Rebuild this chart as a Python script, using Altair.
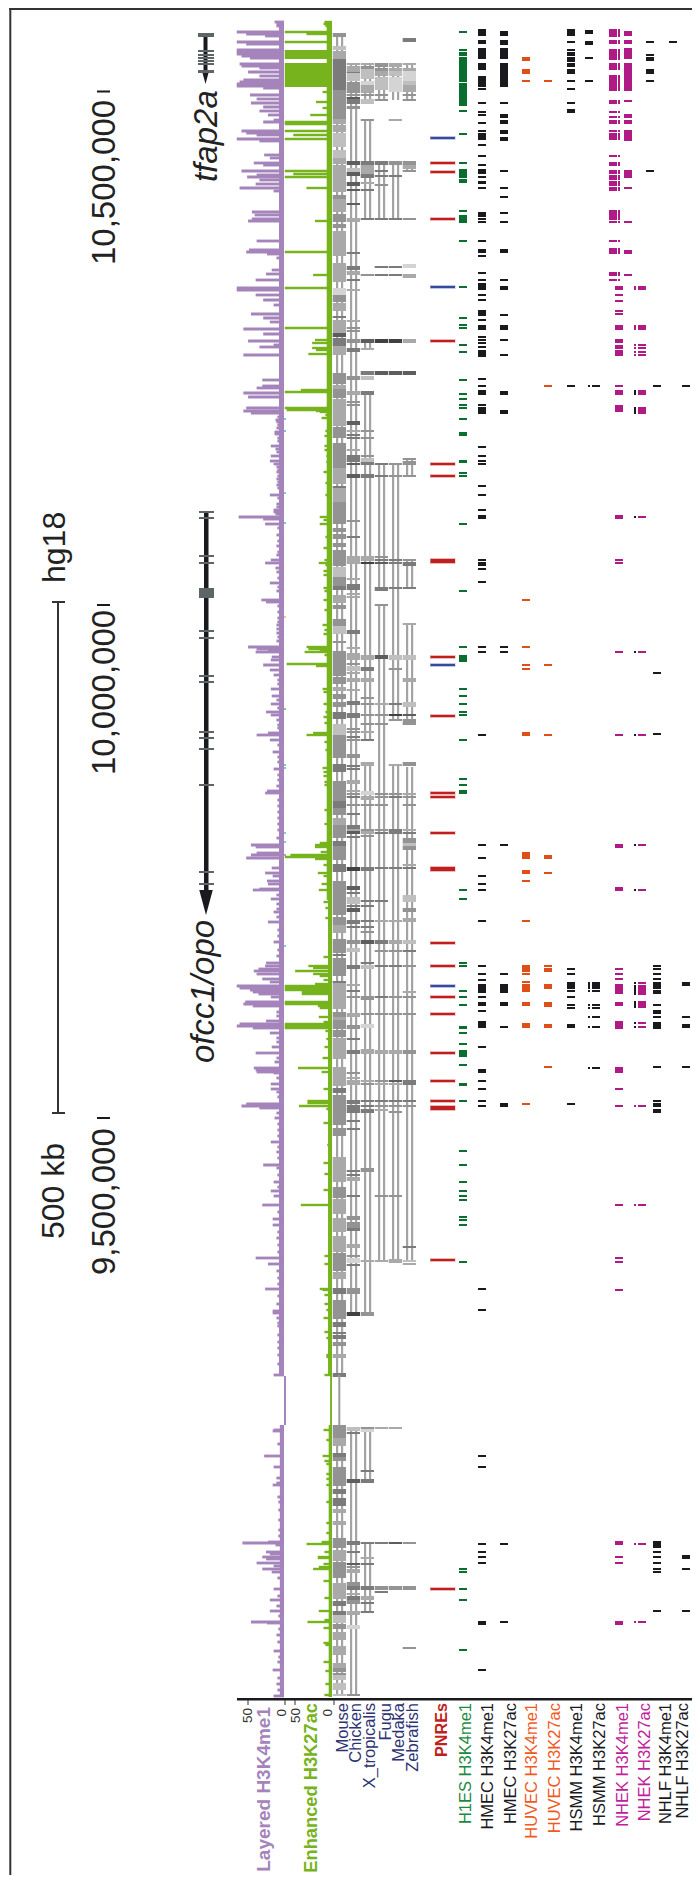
import altair as alt
import pandas as pd

alt.data_transformers.disable_max_rows()

RULER_TOP = 91.5           # where 10,500,000 sits on the reading ruler
UNITS_PER_KB = 1.0265
def bp(p):
    return 10_500_000 - (p - RULER_TOP) / UNITS_PER_KB * 1000

GRAYS = {1: "#d4d4d4", 2: "#bfbfbf", 3: "#a9a9a9", 4: "#939393", 5: "#7b7b7b", 6: "#5d5d5d", 7: "#414141"}
PURPLE, GREEN = "#a583bb", "#76b31c"
BLACK, DKGREEN, ORANGE, MAGENTA = "#1a1a1e", "#0a6e30", "#e04e17", "#b01a84"
RED, BLUE = "#c01f20", "#37499b"

# ---- signal tracks (position, signal value 0-50) ----
LAYERED = [(22,10),(24,8),(26,8),(32,50),(34,40),(36,20),(42,50),(44,40),(50,50),(52,50),(54,50),(56,45),(58,36),
(64,47),(66,45),(68,26),(72,38),(76,26),(80,43),(82,47),(84,50),(86,50),(88,22),(95,36),(99,29),(103,35),(107,22),
(111,26),(115,17),(120,11),(122,22),(131,45),(133,40),(135,29),(139,50),(141,26),(155,21),(158,15),(163,32),(165,22),
(171,45),(175,29),(177,39),(180,26),(184,30),(188,47),(191,11),(212,34),(215,31),(219,34),(221,38),(241,29),(250,37),
(252,40),(254,18),(258,8),(270,13),(274,19),(280,30),(288,50),(290,50),(295,30),(300,22),(305,11),(314,35),(318,22),
(322,15),(329,43),(334,22),(341,38),(345,11),(347,26),(355,43),(380,23),(386,23),(388,29),(393,43),(397,38),(408,40),
(411,43),(413,35),(417,7),(420,9),(422,8),(425,7),(428,8),(432,10),(434,10),(438,7),(441,7),(446,14),(449,9),(452,8),
(456,14),(461,15),(464,11),(467,8),(470,7),(472,8),(476,7),(479,8),(482,7),(485,8),(488,7),(495,15),(498,7),(504,8),
(507,8),(510,11),(512,11),(514,9),(517,48),(519,22),(524,20),(528,7),(535,8),(541,7),(546,8),(552,7),(555,8),
(560,14),(563,20),(568,9),(572,8),(578,7),(583,15),(587,7),(591,8),(600,24),(602,19),(606,7),(612,7),(618,7),(622,7),
(625,8),(629,8),(633,8),(637,7),(641,8),(647,38),
(649,29),(650,17),(652,30),(657,13),(660,14),(665,22),(670,15),(675,11),(680,7),(684,7),(689,14),(696,13),(700,8),(704,14),(708,7),(712,19),(715,14),
(720,8),(725,7),(728,7),(733,17),(735,29),(740,15),(745,7),(752,12),(757,7),(762,7),(769,11),(775,7),(780,7),(786,8),(791,18),(793,20),
(800,7),(806,7),(812,7),(818,7),(824,7),(830,7),(838,8),(845,35),(847,30),(853,29),(855,35),
(858,40),(868,13),(873,20),(876,12),(881,18),(884,17),(889,26),(890,33),(895,8),(899,14),(904,8),(909,8),(912,11),(917,8),(922,17),
(930,7),(936,7),(942,11),(950,7),(956,8),(963,19),(966,20),(969,27),(971,32),(974,29),(979,23),(982,15),(986,50),(988,47),(990,36),(992,33),(994,27),
(997,14),(1002,41),(1004,43),(1006,33),(1012,8),(1016,8),(1021,19),(1024,47),(1026,50),(1028,33),(1033,15),(1038,8),(1042,8),(1047,13),(1053,30),(1058,8),(1062,10),
(1068,32),(1070,30),(1072,29),(1073,11),(1078,8),(1084,14),(1089,14),(1092,8),(1097,7),(1104,40),(1106,45),(1108,26),(1113,8),(1118,10),(1124,7),(1130,7),(1136,7),(1142,14),(1147,7),
(1152,8),(1158,7),(1165,22),(1168,8),(1175,7),(1182,11),(1187,7),(1191,14),(1196,11),(1205,23),(1212,7),(1219,12),(1225,12),(1232,7),(1238,8),(1245,7),(1252,7),(1258,30),(1264,17),(1271,8),(1278,7),(1284,7),
(1289,20),(1296,7),(1304,8),(1311,12),(1313,12),(1318,8),(1323,7),(1326,7),(1335,7),(1342,7),(1348,7),(1355,7),(1364,7),(1375,11),(1430,11),
(1431,12),(1444,7),(1456,21),(1467,11),(1478,8),(1483,8),(1485,12),(1497,7),(1502,6),(1510,6),(1520,6),(1530,6),(1536,6),(1542,17),(1543,44),(1545,9),(1552,19),(1554,15),
(1557,23),(1559,19),(1563,29),(1566,11),(1569,23),(1572,13),(1578,7),(1589,11),(1596,7),(1600,15),(1606,8),(1611,15),(1616,6),(1622,35),
(1623,18),(1629,6),(1635,8),(1642,7),(1651,11),(1657,6),(1662,7),(1670,12),(1678,7),(1684,8),(1690,7),(1696,11)]
ENHANCED = [(22,8),(24,9),(26,7),(32,50),(34,27),(42,50),(92,10),(102,17),(108,10),(115,23),(122,50),(124,50),
(131,50),(135,41),(139,50),(171,50),(174,41),(177,50),(188,27),(221,18),(252,50),(275,20),(288,50),(328,50),(340,18),
(343,21),(348,21),(350,17),(354,25),(390,33),(392,50),(408,50),(410,48),(411,17),(412,13),(418,11),(415,7),(431,7),
(436,8),(446,8),(450,8),(456,6),(462,6),(472,9),(483,7),(495,7),(517,13),(520,9),(524,13),(537,7),(548,9),(560,8),
(563,14),(565,7),(571,9),(575,9),(588,9),(591,8),(600,9),(610,8),(625,10),(630,8),(634,9),(647,27),(649,25),(650,13),
(652,29),(655,8),(664,48),(666,17),(689,10),(692,9),(704,9),(712,7),(717,9),(723,8),(733,20),(735,27),(742,8),(750,7),
(768,10),(772,9),(776,9),(782,8),(785,8),(810,8),(824,8),(843,13),(845,18),(847,18),(852,12),(855,44),(857,50),(859,18),
(865,9),(873,15),(876,9),(884,11),(890,14),(902,9),(908,7),(918,7),(957,9),(966,25),(968,20),(971,39),(974,20),(976,13),
(980,9),(984,18),(986,50),(988,50),(990,50),(992,32),(994,32),(1002,50),(1004,50),(1006,15),(1008,13),(1017,14),(1022,9),
(1024,50),(1026,50),(1028,50),(1031,7),(1039,6),(1047,8),(1058,10),(1068,36),(1072,11),(1089,9),(1101,26),(1103,26),
(1106,35),(1109,6),(1123,9),(1145,5),(1163,9),(1174,8),(1190,9),(1205,33),(1256,8),(1264,8),(1289,13),(1290,10),(1295,8),
(1304,8),(1310,6),(1318,9),(1332,8),(1338,6),(1355,6),(1357,6),(1375,8),(1430,9),(1440,6),(1456,10),(1461,8),(1464,6),
(1474,6),(1479,6),(1485,6),(1502,6),(1523,6),(1533,6),(1542,11),(1544,27),(1552,8),(1557,15),(1558,15),(1564,9),(1567,14),
(1569,20),(1581,9),(1598,8),(1611,14),(1620,8),(1622,26),(1628,9),(1643,9),(1645,7),(1662,9),(1671,7),(1684,7),(1695,8)]
ENHANCED_BLOCKS = [(50, 59, 50), (63, 87, 50)]
SPECKS = [(419,"#8cc8c8"),(431,"#7fc4e0"),(493,"#8cc8c8"),(523,"#7fc4e0"),(617,"#f3c888"),(709,"#86c87c"),(765,"#8cc8c8"),
(768,"#8cc8c8"),(833,"#8cc8c8"),(842,"#8cc8c8"),(855,"#e884b4"),(946,"#8cc8c8")]

# ---- conservation tracks: (start, end, shade) ----
MOUSE = [(33,37,4),(46,50,2),(51,59,3),(59,90,5),(90,119,4),(119,124,3),(125,132,3),(133,147,2),(150,158,2),(158,164,3),(165,192,3),
(195,199,4),(199,212,3),(214,222,4),(224,228,4),(231,256,3),(263,282,3),(288,295,1),(295,302,4),(303,311,3),(316,318,5),(320,333,3),
(333,337,6),(338,346,5),(346,355,3),(373,384,4),(385,389,3),(389,398,4),(399,426,3),(427,438,4),(443,468,4),(468,484,3),(486,488,5),
(488,502,3),(502,524,4),(528,532,4),(534,539,4),(543,547,4),(550,566,4),(567,577,2),(577,586,4),(586,590,5),(595,603,3),(605,609,4),
(619,626,4),(626,634,2),(641,643,4),(651,676,4),(677,684,4),(687,691,3),(694,699,4),(702,707,4),(712,719,5),(724,735,2),(735,758,4),
(764,772,5),(781,801,4),(801,808,5),(808,815,4),(818,825,3),(825,838,4),(841,846,5),(846,860,4),(864,872,5),(881,915,4),(917,925,4),
(925,933,3),(939,953,4),(954,956,5),(958,962,4),(962,976,4),(981,983,5),(983,1009,3),(1012,1017,4),(1017,1020,3),(1020,1029,4),
(1030,1037,4),(1038,1059,3),(1067,1086,3),(1088,1093,5),(1095,1125,4),(1128,1136,4),(1157,1182,3),(1187,1198,4),(1199,1214,3),
(1218,1232,3),(1236,1252,3),(1253,1271,4),(1272,1279,3),(1288,1294,5),(1300,1319,4),(1322,1327,5),(1332,1334,5),(1335,1339,5),
(1342,1346,4),(1354,1358,3),(1373,1377,5),(1425,1438,4),(1438,1446,3),(1453,1457,5),(1457,1461,4),(1467,1486,4),(1489,1494,5),
(1498,1502,5),(1502,1506,5),(1509,1513,3),(1521,1525,3),(1538,1548,4),(1550,1561,3),(1562,1578,4),(1583,1599,3),(1601,1606,5),
(1611,1615,5),(1615,1623,2),(1624,1629,4),(1632,1640,3),(1646,1655,3),(1663,1668,3),(1668,1672,4),(1673,1675,4),(1675,1680,2),
(1683,1690,2),(1694,1696,2)]
CHICKEN = [(63,65,3),(66,72,3),(72,73,5),(73,81,2),(82,93,4),(94,96,4),(97,99,6),(99,104,5),(106,109,4),(161,165,6),(168,172,2),
(172,176,6),(182,186,6),(189,191,6),(203,205,6),(218,222,3),(252,254,5),(266,270,5),(271,275,3),(279,281,5),(289,291,3),(320,322,3),
(327,329,4),(330,332,4),(339,343,4),(348,352,5),(376,380,4),(391,395,3),(401,403,4),(404,406,4),(421,425,6),(430,432,3),(434,436,5),
(437,439,5),(449,451,3),(455,462,5),(463,465,6),(474,478,6),(520,522,4),(536,538,5),(556,564,3),(578,580,3),(584,590,5),(593,595,3),
(596,598,3),(630,634,5),(647,649,3),(653,660,3),(663,665,4),(666,671,2),(672,674,3),(678,682,3),(689,691,3),(701,705,5),(713,718,5),
(728,730,4),(731,733,4),(736,738,5),(739,741,4),(754,758,4),(765,767,5),(768,770,5),(780,784,3),(790,792,3),(793,795,4),(796,798,5),
(804,806,4),(813,815,5),(825,829,5),(829,831,3),(831,834,6),(836,838,5),(867,871,7),(886,890,6),(892,894,5),(897,904,2),(905,907,5),
(908,912,6),(920,924,5),(926,928,5),(940,944,4),(948,952,2),(965,969,5),(984,986,3),(990,992,5),(996,998,4),(1013,1017,3),(1025,1029,4),
(1038,1040,5),(1050,1054,5),(1072,1074,4),(1077,1079,3),(1080,1085,3),(1100,1104,5),(1105,1109,5),(1109,1113,5),(1120,1122,5),
(1128,1130,5),(1170,1172,5),(1174,1176,5),(1177,1181,3),(1195,1197,5),(1216,1220,4),(1222,1228,4),(1228,1231,5),(1244,1248,3),
(1255,1257,4),(1258,1263,1),(1264,1266,5),(1288,1294,4),(1312,1316,7),(1427,1431,2),(1432,1434,5),(1479,1483,6),(1541,1545,5),
(1551,1553,5),(1563,1565,6),(1566,1568,4),(1569,1573,3),(1582,1586,4),(1586,1590,5),(1593,1595,3),(1596,1600,5),(1600,1604,4),
(1611,1615,3),(1625,1629,1),(1694,1696,4)]
XTROP = [(63,65,3),(66,69,4),(69,79,2),(81,85,1),(85,93,3),(94,96,4),(99,104,2),(119,121,4),(161,165,5),(165,174,3),(174,178,5),
(182,184,3),(189,191,5),(218,220,5),(274,276,4),(339,343,6),(348,350,3),(371,375,5),(376,380,2),(391,395,5),(430,432,4),(437,439,4),
(455,457,4),(458,462,2),(462,465,5),(474,478,5),(556,561,3),(562,564,7),(655,660,3),(667,671,5),(678,682,3),(697,699,4),(703,705,4),
(714,716,4),(723,725,4),(731,733,3),(739,741,5),(762,766,3),(791,795,1),(796,800,3),(804,806,4),(829,831,4),(831,834,3),(835,837,4),
(867,871,5),(900,902,5),(905,907,5),(920,922,5),(926,928,5),(931,933,4),(940,944,6),(962,964,5),(965,969,2),(996,1000,4),(1013,1015,4),
(1024,1028,1),(1049,1054,3),(1080,1082,3),(1083,1085,4),(1100,1102,5),(1105,1107,5),(1109,1113,5),(1168,1172,4),(1260,1262,3),
(1312,1316,4),(1427,1429,4),(1429,1432,1),(1470,1472,5),(1479,1483,5),(1542,1544,5),(1557,1559,3),(1563,1565,5),(1586,1590,5),
(1596,1600,3),(1602,1604,5),(1611,1613,5)]
FUGU = [(63,67,4),(68,71,4),(71,76,3),(77,85,2),(85,90,2),(94,96,4),(99,101,4),(161,165,5),(170,172,5),(175,177,5),(184,186,4),
(218,220,5),(266,268,5),(274,276,5),(339,343,7),(371,375,6),(463,465,5),(475,477,5),(556,558,4),(559,561,5),(562,564,6),(587,591,5),
(604,606,4),(655,659,6),(703,705,3),(714,716,4),(723,725,4),(793,795,4),(796,798,4),(804,806,4),(829,831,4),(832,834,5),(867,869,5),
(900,902,5),(920,922,3),(940,944,5),(950,952,4),(965,967,5),(996,998,5),(1013,1015,4),(1050,1054,3),(1080,1082,4),(1083,1085,3),
(1100,1102,5),(1105,1107,4),(1109,1111,3),(1195,1197,4),(1260,1262,3),(1427,1429,3),(1542,1544,5),(1586,1590,4),(1591,1593,5)]
MEDAKA = [(63,67,3),(68,71,3),(71,76,2),(77,82,1),(82,92,1),(119,121,3),(161,165,4),(175,177,5),(218,220,5),(266,268,5),(274,276,5),
(339,343,7),(371,375,6),(463,465,4),(475,477,4),(559,561,5),(562,564,5),(587,589,5),(655,660,2),(668,670,4),(703,705,5),(714,716,7),
(719,721,4),(764,766,3),(793,795,4),(796,798,5),(829,834,5),(867,869,5),(920,922,3),(940,944,3),(950,952,4),(965,967,5),(996,998,4),
(1013,1015,4),(1050,1054,3),(1080,1082,6),(1083,1085,3),(1100,1102,5),(1105,1107,4),(1111,1113,4),(1195,1197,4),(1259,1263,3),
(1427,1429,3),(1542,1544,6),(1586,1590,4)]
ZEBRAFISH = [(38,42,5),(63,65,3),(68,71,3),(71,81,1),(81,85,2),(85,92,3),(94,96,4),(99,101,4),(161,165,4),(165,169,3),(170,172,4),
(218,220,4),(264,268,1),(274,278,3),(339,343,3),(371,375,6),(458,460,4),(461,465,4),(475,477,4),(559,561,4),(562,566,5),(587,589,5),
(623,625,3),(655,660,2),(678,682,3),(702,707,2),(714,716,6),(719,725,4),(762,766,4),(793,795,3),(796,798,4),(804,806,4),(829,831,3),
(832,834,5),(838,843,4),(843,846,2),(846,850,4),(864,866,3),(867,869,5),(895,902,2),(908,912,4),(918,922,3),(940,944,2),(950,952,5),
(965,967,4),(991,993,3),(996,998,4),(1013,1015,4),(1050,1054,4),(1080,1085,5),(1100,1102,5),(1105,1107,4),(1246,1248,5),(1260,1262,2),
(1263,1265,3),(1542,1544,4),(1586,1590,4),(1647,1649,4)]
# stretches joined by the paired grey lines
LINKS = {
 "Mouse": [(36,1375),(1425,1696)],
 "Chicken": [(63,1316),(1427,1696)],
 "X_tropicalis": [(63,100),(119,219),(339,350),(393,740),(762,1315),(1427,1482),(1543,1612)],
 "Fugu": [(63,100),(161,219),(463,557),(557,588),(606,1262)],
 "Medaka": [(63,100),(161,219),(463,720),(764,1262)],
 "Zebrafish": [(63,100),(161,171),(458,476),(560,588),(623,725),(767,1262)],
}
MOUSE_SINGLE = [(1375, 1425)]

# ---- enhancer marks: a number is a thin mark, a pair is a start/end ----
PNRE_RED = [163,172,219,341,464,476,(559,563),657,716,793,797,833,(867,871),943,966,997,1014,1053,1081,1101,(1106,1110),1260,1589]
PNRE_BLUE = [138,287,665,986]
H1ES = [32,50,(52,56),(57,82),(83,106),111,134,163,(169,178),(179,183),211,(215,223),241,287,318,325,328,345,352,380,394,399,405,408,
419,(432,436),(460,463),473,476,524,591,647,(655,662),689,696,704,712,715,740,779,785,(790,794),890,899,963,966,991,997,1005,(1026,1029),
1033,1044,(1050,1057),1065,(1083,1086),1101,1151,1165,1182,1191,1196,1200,1217,1220,1225,1262,1569,1572,1589,1600,1650]
HMEC_ME1 = [(29,36),(40,44),(48,59),(63,70),(76,87),89,103,112,115,123,131,(133,140),145,156,165,(169,174),177,(181,184),188,(212,217),219,
222,241,(249,253),256,273,280,(283,290),295,300,(310,316),320,(325,330),337,340,343,347,(350,357),379,386,(390,395),405,(407,414),447,456,461,
464,486,495,510,(515,519),560,(562,566),569,582,647,652,735,845,858,876,884,890,921,966,974,980,(984,993),997,(1002,1006),1011,(1021,1028),
1047,(1069,1073),1081,1089,1101,1106,1289,1310,1456,1467,1544,1552,1557,1563,(1621,1625),1670]
HMEC_AC = [(31,36),(40,45),(48,59),(63,87),103,(114,118),(120,124),(130,134),(137,141),171,188,197,213,222,(249,253),280,(286,290),315,
(325,330),340,355,(391,395),(410,414),647,652,845,974,(984,993),(1002,1006),1027,(1103,1107),1544,1622]
HUVEC_ME1 = [(57,61),(69,74),81,600,647,665,669,(732,736),(852,859),(870,874),881,921,(965,972),974,982,(984,992),(1002,1006),(1023,1028),1104]
HUVEC_AC = [81,386,665,735,(855,859),873,966,(968,972),(984,989),(1002,1007),(1024,1028),1067]
HSMM_ME1 = [(29,36),42,50,(52,56),(57,62),(63,67),(69,74),81,89,103,(109,113),386,969,974,(982,989),991,997,1005,1008,(1024,1028),1104]
HSMM_AC_UPPER = [(30,34),(41,45),58,81]
HSMM_AC_LOWER = [386,(982,989),991,1005,1008,1017,1027,1068]
NHEK_ME1_UPPER = [(29,37),(40,44),(49,60),(63,66),(66,70),(75,91),(100,104),112,117,(120,124),131,(133,140),156,(162,166),(170,174),(175,180),
(181,186),(187,191),(210,220),222,241,(248,254),(272,276),280]
NHEK_ME1_LOWER = [(286,290),295,301,311,314,(325,330),(339,343),(345,349),(350,356),386,(390,395),(405,412),411,(515,519),560,563,652,735,
(844,848),(887,891),969,974,979,(984,994),(1002,1006),(1021,1029),(1067,1073),1089,1106,1205,1258,1262,1290,(1541,1545),1557,1563,(1621,1625)]
NHEK_AC_UPPER = [(31,36),(40,44),(48,59),(63,91),101,(114,118),(120,124),(130,141),(170,178),188,222,(250,254),275]
NHEK_AC_LOWER = [(286,290),(325,330),345,348,352,355,(390,395),(407,414),517,652,735,845,890,983,(985,995),(1001,1008),1023,1027,1106,1205,1544,1622]
NHEK_AC_NOTCH_BLACK = [(390,395),(407,414),517,652,735,845,890,983,(985,995),(1001,1008),1023,1027]
NHEK_AC_NOTCH_MAGENTA = [(286,290),(325,330),345,348,352,355,1106,1205,1544,1622]
NHLF_ME1_UPPER = [42,55,(57,61),(69,74),81,171]
NHLF_ME1_LOWER = [386,673,734,966,969,974,979,(982,989),(990,994),1005,(1010,1014),1017,(1022,1029),1067,1101,(1103,1107),(1109,1113),
(1541,1548),1552,1557,1563,1569,1572,1611]
NHLF_AC_UPPER = [42]
NHLF_AC_LOWER = [386,(982,986),1017,(1024,1028),1067,(1555,1559),1569,1611]

# ---- genes ----
TFAP2A_EXONS = [(33,37),(50,52),(54,56),(57,59),(60,62),(63,65),(70,73)]
OFCC1_EXONS = [(511,513),(517,519),(555,557),(562,564),(588,598),(630,632),(637,639),(675,677),(681,683),(731,733),(737,739),(748,750),(784,786),(871,873),(883,885)]

# ---- labels: text, baseline, position along the strip, size, colour, weight, style, align ----
NAVY = "#2d3272"
LABELS = [
 ("10,500,000",115,265,33,"#222222","normal","normal","left"),
 ("10,000,000",115,775,33,"#222222","normal","normal","left"),
 ("9,500,000",115,1275,33,"#222222","normal","normal","left"),
 ("hg18",65,583,32,"#222222","normal","normal","left"),
 ("500 kb",64,1239,32,"#222222","normal","normal","left"),
 ("tfap2a",217,182,33,"#222222","normal","italic","left"),
 ("ofcc1/opo",214,1063,33,"#222222","normal","italic","left"),
 ("Layered H3K4me1",270,1707,19,PURPLE,"bold","normal","right"),
 ("Enhanced H3K27ac",317,1703,18.3,GREEN,"bold","normal","right"),
 ("50",252,1708,13.5,"#333333","normal","normal","right"),
 ("0",286,1709,13.5,"#333333","normal","normal","right"),
 ("50",300,1708,13.5,"#333333","normal","normal","right"),
 ("0",332,1709,13.5,"#333333","normal","normal","right"),
 ("Mouse",348,1703,16.5,NAVY,"normal","normal","right"),
 ("Chicken",361,1703,16.5,NAVY,"normal","normal","right"),
 ("X_tropicalis",375,1703,16.5,NAVY,"normal","normal","right"),
 ("Fugu",391,1703,16.5,NAVY,"normal","normal","right"),
 ("Medaka",404,1703,16.5,NAVY,"normal","normal","right"),
 ("Zebrafish",418,1703,16.5,NAVY,"normal","normal","right"),
 ("PNREs",447,1703,16.2,RED,"bold","normal","right"),
 ("H1ES H3K4me1",471,1703,16.5,"#1b8a40","normal","normal","right"),
 ("HMEC H3K4me1",493,1703,16.5,BLACK,"normal","normal","right"),
 ("HMEC H3K27ac",516,1703,16.5,BLACK,"normal","normal","right"),
 ("HUVEC H3K4me1",537,1703,16.5,"#ef5a1e","normal","normal","right"),
 ("HUVEC H3K27ac",560,1703,16.5,"#ef5a1e","normal","normal","right"),
 ("HSMM H3K4me1",582,1703,16.5,BLACK,"normal","normal","right"),
 ("HSMM H3K27ac",605,1703,16.5,BLACK,"normal","normal","right"),
 ("NHEK H3K4me1",628,1703,16.5,"#c0219a","normal","normal","right"),
 ("NHEK H3K27ac",650,1703,16.5,"#c0219a","normal","normal","right"),
 ("NHLF H3K4me1",671,1703,16.5,BLACK,"normal","normal","right"),
 ("NHLF H3K27ac",688,1703,16.5,BLACK,"normal","normal","right"),
]

# ---- assemble ----
rects = []
def put(x, x2, a, b, color):
    rects.append({"x": x, "x2": x2, "y": bp(a), "y2": bp(b), "c": color})
def marks(x, x2, items, color, thin=2):
    for it in items:
        if isinstance(it, tuple):
            put(x, x2, it[0], it[1], color)
        else:
            put(x, x2, it - thin / 2, it + thin / 2, color)

BOTTOM = 1875
put(9.3, 11.3, 8, BOTTOM, "#333333")        # frame
put(9.3, 692, 8, 10, "#333333")

# scale bar, coordinate ticks, genes
put(57, 59, 602, 1113, "#333333"); put(52, 65, 601, 603, "#333333"); put(52, 65, 1112, 1114, "#333333")
for p in (91.5, 605, 1118):
    put(97, 110, p - 1, p + 1, BLACK)
put(203.5, 207.5, 35, 75, BLACK)
for a, b in TFAP2A_EXONS: put(198, 214, a, b, "#5d6565")
put(204, 208.5, 512, 892, BLACK)
for a, b in OFCC1_EXONS: put(199, 214, a, b, "#5d6565")

# signals
def sig_x(base, v): return base - v * 0.945
for a, b, v in [(21, 1376, 5.3), (1425, 1697, 4.4)]:
    put(sig_x(284, v), 284, a, b, PURPLE)
put(284, 286, 1376, 1425, PURPLE)
for p, v in LAYERED: put(sig_x(284, v), 284, p - 1.4, p + 1.4, PURPLE)
for p, col in SPECKS: put(284, 286, p - 1, p + 1, col)
for a, b, v in [(21, 900, 5.6), (900, 1376, 4.2), (1376, 1425, 2), (1425, 1697, 3.5)]:
    put(sig_x(332, v), 332, a, b, GREEN)
for a, b, v in ENHANCED_BLOCKS: put(sig_x(332, v), 332, a, b, GREEN)
for p, v in ENHANCED: put(sig_x(332, v), 332, p - 1.2, p + 1.2, GREEN)

# conservation
COLS = {"Mouse": (333, MOUSE), "Chicken": (347, CHICKEN), "X_tropicalis": (361, XTROP),
        "Fugu": (375, FUGU), "Medaka": (389, MEDAKA), "Zebrafish": (403, ZEBRAFISH)}
for name, (x0, blocks) in COLS.items():
    for a, b in LINKS[name]:
        put(x0 + 3, x0 + 5.2, a, b, "#a3a3a3")
        put(x0 + 8, x0 + 10.2, a, b, "#a3a3a3")
    for a, b, s in blocks:
        put(x0 - 0.3, x0 + 13, a, b, GRAYS[s])
for a, b in MOUSE_SINGLE:
    put(338.3, 340.3, a, b, "#9b9b9b")

# PNREs
for items, col, halo in [(PNRE_RED, RED, "#ecb9b9"), (PNRE_BLUE, BLUE, "#bcc4e4")]:
    for it in items:
        a, b = it if isinstance(it, tuple) else (it - 1, it + 1)
        put(430, 455.5, a - 1, b + 1, halo)
        put(430.5, 455, a, b, col)

# epigenome tracks
marks(459, 467, H1ES, DKGREEN)
marks(478, 486, HMEC_ME1, BLACK)
marks(500, 508, HMEC_AC, BLACK)
marks(522, 530, HUVEC_ME1, ORANGE)
marks(544, 552, HUVEC_AC, ORANGE)
marks(567, 575, HSMM_ME1, BLACK)
marks(585, 593, HSMM_AC_UPPER, BLACK)
marks(588, 590, HSMM_AC_LOWER, BLACK)
marks(592, 600, HSMM_AC_LOWER, BLACK)
marks(609, 617, NHEK_ME1_UPPER, MAGENTA)
marks(618, 620, NHEK_ME1_UPPER, MAGENTA)
marks(615, 623, NHEK_ME1_LOWER, MAGENTA)
marks(624, 632, NHEK_AC_UPPER, MAGENTA)
marks(634, 636, NHEK_AC_NOTCH_BLACK, BLACK)
marks(634, 636, NHEK_AC_NOTCH_MAGENTA, MAGENTA)
marks(638, 646, NHEK_AC_LOWER, MAGENTA)
marks(646, 654, NHLF_ME1_UPPER, BLACK)
marks(653, 661, NHLF_ME1_LOWER, BLACK)
marks(669, 677, NHLF_AC_UPPER, BLACK)
marks(682, 690, NHLF_AC_LOWER, BLACK)

# bottom axis
put(237, 692, 1698, 1700.5, BLACK)
for x in (248, 285, 295, 334):
    put(x - 0.5, x + 0.5, 1700, 1705, "#333333")

PLOT_W, PLOT_H = 684, 1867
X = alt.X("x:Q", axis=None, scale=alt.Scale(domain=[8, 8 + PLOT_W], nice=False, zero=False))
Y = alt.Y("y:Q", axis=None, scale=alt.Scale(domain=[bp(8 + PLOT_H), bp(8)], nice=False, zero=False))

rect_layer = alt.Chart(pd.DataFrame(rects)).mark_rect(strokeWidth=0).encode(
    x=X, x2="x2:Q", y=Y, y2="y2:Q", color=alt.Color("c:N", scale=None))

ARROW_SHAPE = "M-0.54,-1L0.54,-1L0,1Z"
arrow_small = alt.Chart(pd.DataFrame([{"x": 205.5, "y": bp(78.5)}])).mark_point(
    shape=ARROW_SHAPE, size=121, filled=True, color=BLACK, opacity=1, strokeWidth=0).encode(x=X, y=Y)
arrow_big = alt.Chart(pd.DataFrame([{"x": 206, "y": bp(902.5)}])).mark_point(
    shape=ARROW_SHAPE, size=625, filled=True, color=BLACK, opacity=1, strokeWidth=0).encode(x=X, y=Y)

label_df = pd.DataFrame(LABELS, columns=["t", "x", "p", "size", "c", "w", "st", "al"])
label_df["y"] = label_df["p"].map(bp)
text_layers = []
for (size, w, st, al), g in label_df.groupby(["size", "w", "st", "al"]):
    text_layers.append(alt.Chart(g).mark_text(
        angle=270, align=al, baseline="alphabetic", font="Liberation Sans",
        fontSize=float(size), fontWeight=w, fontStyle=st
    ).encode(x=X, y=Y, text="t:N", color=alt.Color("c:N", scale=None)))

chart = alt.layer(rect_layer, arrow_small, arrow_big, *text_layers).properties(
    width=PLOT_W, height=PLOT_H, padding=0, autosize=alt.AutoSizeParams(type="none")
).configure_view(stroke=None)

chart.save("out.html", embed_options={"renderer": "svg", "actions": False})
